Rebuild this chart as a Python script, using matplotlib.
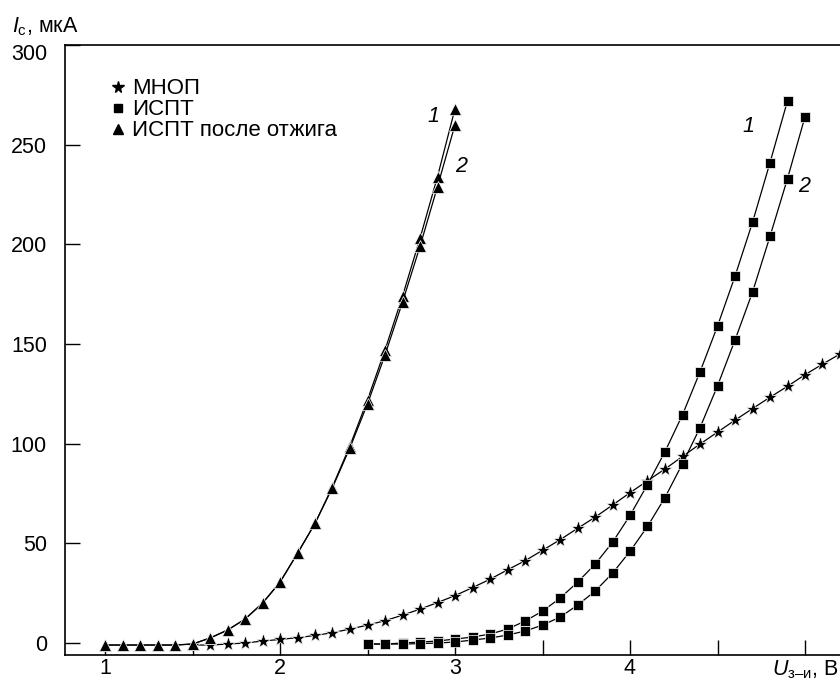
import matplotlib
matplotlib.use("Agg")
import matplotlib.pyplot as plt
from matplotlib.lines import Line2D
import numpy as np

plt.rcParams['font.family'] = ['Liberation Sans', 'DejaVu Sans']
plt.rcParams['mathtext.fontset'] = 'custom'
plt.rcParams['mathtext.rm'] = 'Liberation Sans'
plt.rcParams['mathtext.it'] = 'Liberation Sans:italic'

# ---- data ----
# МНОП (stars)
mnop_x = [1.5, 1.6, 1.7, 1.8, 1.9, 2.0, 2.1, 2.2, 2.3, 2.4, 2.5, 2.6, 2.7, 2.8, 2.9,
          3.0, 3.1, 3.2, 3.3, 3.4, 3.5, 3.6, 3.7, 3.8, 3.9, 4.0, 4.1, 4.2, 4.3, 4.4,
          4.5, 4.6, 4.7, 4.8, 4.9, 5.0, 5.1, 5.2]
mnop_y = [-1, -1, -0.5, 0, 1, 1.8, 2.7, 3.8, 5.2, 7.0, 9.0, 11.2, 14.0, 17.0, 20.3,
          23.8, 27.8, 32.0, 36.7, 41.3, 46.5, 51.8, 57.5, 63.1, 69.2, 75.4, 81.4,
          87.3, 93.6, 99.8, 105.8, 111.8, 117.6, 123.3, 128.8, 134.6, 139.9, 145.0]

# ИСПТ (squares), curves 1 and 2
ispt_x1 = [2.5, 2.6, 2.7, 2.8, 2.9, 3.0, 3.1, 3.2, 3.3, 3.4, 3.5, 3.6, 3.7, 3.8, 3.9,
           4.0, 4.1, 4.2, 4.3, 4.4, 4.5, 4.6, 4.7, 4.8, 4.9]
ispt_y1 = [-0.5, -0.5, 0, 0.5, 1, 2, 3, 4.5, 7, 11, 16, 22.5, 30.5, 39.5, 50.5,
           64, 79.5, 96, 114.5, 136, 159, 184, 211, 241, 272]
ispt_x2 = [2.5, 2.6, 2.7, 2.8, 2.9, 3.0, 3.1, 3.2, 3.3, 3.4, 3.5, 3.6, 3.7, 3.8, 3.9,
           4.0, 4.1, 4.2, 4.3, 4.4, 4.5, 4.6, 4.7, 4.8, 4.9, 5.0]
ispt_y2 = [-0.5, -0.5, -0.5, -0.3, 0, 0.5, 1.5, 2.5, 4, 6, 9, 13, 19, 26, 35,
           46, 58.5, 73, 90, 108, 129, 152, 176, 204, 233, 264]

# ИСПТ после отжига (triangles), curves 1 and 2
anneal_x = [1.0, 1.1, 1.2, 1.3, 1.4, 1.5, 1.6, 1.7, 1.8, 1.9, 2.0, 2.1, 2.2, 2.3, 2.4,
            2.5, 2.6, 2.7, 2.8, 2.9, 3.0]
anneal_y1 = [-1, -1, -1, -1, -1, -0.5, 2.5, 6.5, 12, 20, 30.5, 45, 60, 78.5, 99,
             122, 147, 174, 203, 234, 268]
anneal_y2 = [-1, -1, -1, -1, -1, -0.5, 2.5, 6.5, 12, 20, 30.5, 45, 60, 78, 98,
             120, 144.5, 171, 199, 229, 260]

legend_labels = ['МНОП', 'ИСПТ', 'ИСПТ после отжига']
x_ticks = [1, 1.5, 2, 2.5, 3, 3.5, 4, 4.5, 5]
x_ticklabels = ['1', '', '2', '', '3', '', '4', '', '']
y_ticks = [0, 50, 100, 150, 200, 250, 300]
y_ticklabels = ['0', '50', '100', '150', '200', '250', '']
y_top_label = '300'

# ---- figure ----
fig = plt.figure(figsize=(8.4, 7.0), dpi=100)
ax = fig.add_axes([65/840, 1-655/700, 1-65/840, 610/700])

FS = 15.5
lw = 0.9
mk = dict(markeredgecolor='white', markeredgewidth=0.5, color='black', linewidth=lw)

ax.plot(mnop_x, mnop_y, marker='*', markersize=11, clip_on=False, **mk)
ax.plot(ispt_x1, ispt_y1, marker='s', markersize=6.5, **mk)
ax.plot(ispt_x2, ispt_y2, marker='s', markersize=6.5, **mk)
ax.plot(anneal_x, anneal_y1, marker='^', markersize=8, **mk)
ax.plot(anneal_x, anneal_y2, marker='^', markersize=8, **mk)

ax.set_xlim(1 + (65-105)/175, 1 + (840-105)/175)
ax.set_ylim(-6, 300)

ax.set_xticks(x_ticks)
ax.set_xticklabels(x_ticklabels)
ax.set_yticks(y_ticks)
ax.set_yticklabels(y_ticklabels)
ax.tick_params(axis='x', direction='in', length=10.5, width=1, pad=2, labelsize=FS)
ax.tick_params(axis='y', direction='in', length=10.5, width=1, pad=13, labelsize=FS)
ax.spines['right'].set_visible(False)
for s in ['left', 'bottom', 'top']:
    ax.spines[s].set_linewidth(1.2)

# top y tick label, shifted below the unit label as in the original
fig.text(47/840, 1-55/700, y_top_label, fontsize=FS, ha='right', va='center')

# curve numbers
ax.text(2.874, 264, '1', fontsize=FS, style='italic', ha='center', va='center')
ax.text(3.034, 239, '2', fontsize=FS, style='italic', ha='center', va='center')
ax.text(4.674, 259, '1', fontsize=FS, style='italic', ha='center', va='center')
ax.text(4.994, 229, '2', fontsize=FS, style='italic', ha='center', va='center')

# legend
handles = [Line2D([], [], linestyle='none', marker='*', markersize=8.5, color='black'),
           Line2D([], [], linestyle='none', marker='s', markersize=6, color='black'),
           Line2D([], [], linestyle='none', marker='^', markersize=6.5, color='black')]
ax.legend(handles, legend_labels, loc='upper left', bbox_to_anchor=(0.045, 0.96),
          frameon=False, fontsize=16, handlelength=0.8, handletextpad=0.26,
          labelspacing=0.0, borderaxespad=0)

# axis labels
fig.text(12/840, 1-27/700, r'$I_{\mathrm{с}}$, мкА', fontsize=FS, ha='left', va='center')
fig.text(772/840, 1-670/700, r'$U_{\mathrm{з–и}}$, В', fontsize=FS, ha='left', va='center')

fig.savefig('out.png', dpi=100)
